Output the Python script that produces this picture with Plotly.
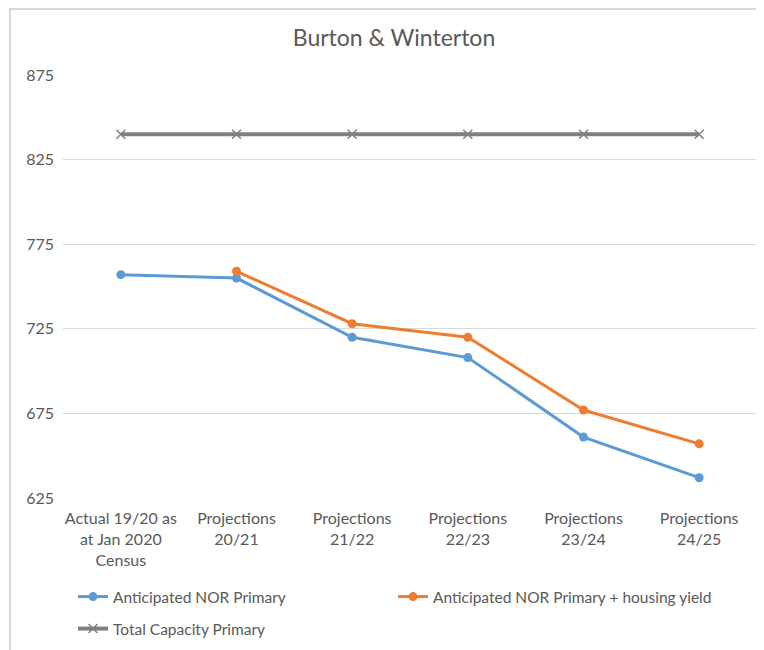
import plotly.graph_objects as go

categories = [
    "Actual 19/20 as<br>at Jan 2020<br>Census",
    "Projections<br>20/21",
    "Projections<br>21/22",
    "Projections<br>22/23",
    "Projections<br>23/24",
    "Projections<br>24/25",
]
nor_primary = [757, 755, 720, 708, 661, 637]
nor_housing = [None, 759, 728, 720, 677, 657]
capacity = [840, 840, 840, 840, 840, 840]
y_ticks = [625, 675, 725, 775, 825, 875]

FONT = "Lato, 'Open Sans', sans-serif"
TXT = "#595959"

fig = go.Figure()
fig.add_trace(go.Scatter(
    x=categories, y=nor_primary, name="Anticipated NOR Primary",
    mode="lines+markers", line=dict(color="#5b9bd5", width=3),
    marker=dict(size=9, color="#5b9bd5"), legend="legend",
))
fig.add_trace(go.Scatter(
    x=categories, y=nor_housing, name="Anticipated NOR Primary + housing yield",
    mode="lines+markers", line=dict(color="#ed7d31", width=3),
    marker=dict(size=9, color="#ed7d31"), legend="legend",
))
fig.add_trace(go.Scatter(
    x=categories, y=capacity, name="Total Capacity Primary",
    mode="lines+markers", line=dict(color="#808080", width=4),
    marker=dict(size=9, symbol="x-thin", line=dict(color="#808080", width=1.5)),
    legend="legend2",
))

# outer chart frame
fig.add_shape(type="rect", xref="paper", yref="paper",
              x0=-0.0764, x1=1.2, y0=-0.5, y1=1.156,
              line=dict(color="#d9d9d9", width=2), fillcolor="rgba(0,0,0,0)")

leg_common = dict(orientation="h", xanchor="left", yanchor="middle",
                  font=dict(size=15.5, color=TXT, family=FONT),
                  bgcolor="rgba(0,0,0,0)")

# page body has an 8px margin, so the figure is drawn 8px smaller
fig.update_layout(
    width=756, height=642,
    margin=dict(l=55, r=7, t=67, b=152, autoexpand=False),
    paper_bgcolor="white", plot_bgcolor="white",
    font=dict(family=FONT, size=16, color=TXT),
    title=dict(text="Burton &amp; Winterton", x=0.5106, xanchor="center",
               y=1 - 30 / 642, yanchor="middle",
               font=dict(size=23, color=TXT, family=FONT)),
    showlegend=True,
    legend=dict(x=0.0144, y=-99 / 423, entrywidth=275,
                entrywidthmode="pixels", traceorder="normal", **leg_common),
    legend2=dict(x=0.0144, y=-131 / 423, **leg_common),
)
fig.update_xaxes(range=[-0.5, 5.5], showgrid=False, showline=False,
                 ticks="", ticklabelstandoff=9,
                 tickfont=dict(size=16, color=TXT))
fig.update_yaxes(range=[625, 875], tickvals=y_ticks, showgrid=True,
                 gridcolor="#d9d9d9", gridwidth=1, zeroline=False,
                 showline=False, ticks="", ticklabelstandoff=8,
                 tickfont=dict(size=16, color=TXT))

fig.write_html("out.html")
